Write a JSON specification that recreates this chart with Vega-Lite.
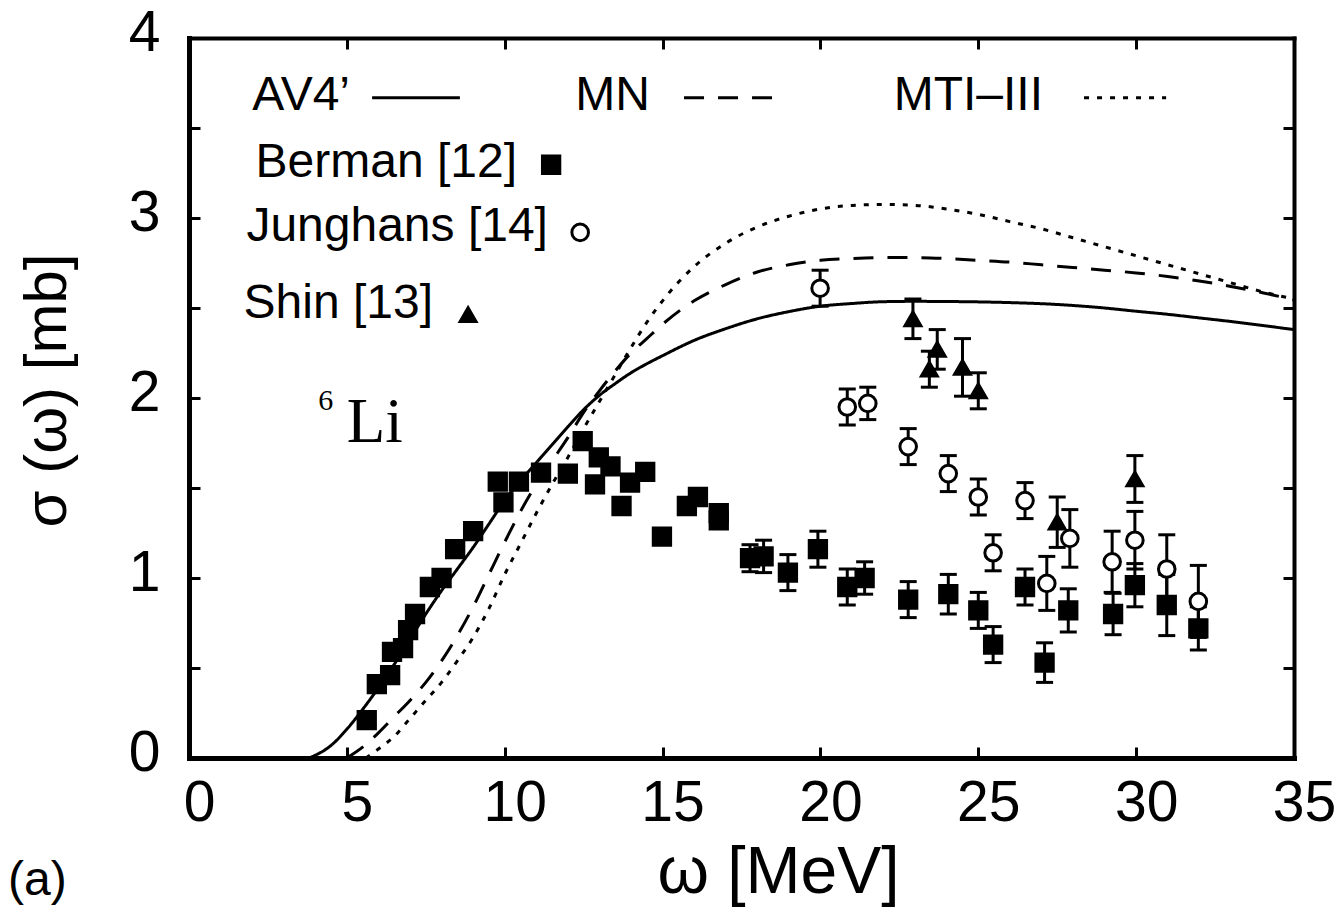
{
  "$schema": "https://vega.github.io/schema/vega-lite/v6.json",
  "width": 1105,
  "height": 720,
  "autosize": {"type": "none"},
  "padding": {"left": 189, "top": 38, "right": 46, "bottom": 164},
  "background": "white",
  "config": {
    "view": {"stroke": null},
    "font": "Liberation Sans",
    "axis": {
      "grid": false,
      "domainColor": "black",
      "tickColor": "black",
      "labelColor": "black",
      "titleColor": "black",
      "labelFont": "Liberation Sans",
      "titleFont": "Liberation Sans",
      "titleFontWeight": "normal",
      "domainCap": "square",
      "labelFlush": false,
      "labelOverlap": false
    }
  },
  "datasets": {
    "curves": [
      {"model": "AV4’", "x": 3.8, "y": 0.0},
      {"model": "AV4’", "x": 4.5, "y": 0.07},
      {"model": "AV4’", "x": 5.0, "y": 0.16},
      {"model": "AV4’", "x": 5.5, "y": 0.27},
      {"model": "AV4’", "x": 6.0, "y": 0.39},
      {"model": "AV4’", "x": 6.5, "y": 0.52},
      {"model": "AV4’", "x": 7.0, "y": 0.66},
      {"model": "AV4’", "x": 7.5, "y": 0.8},
      {"model": "AV4’", "x": 8.0, "y": 0.93},
      {"model": "AV4’", "x": 8.5, "y": 1.05},
      {"model": "AV4’", "x": 9.0, "y": 1.17},
      {"model": "AV4’", "x": 9.5, "y": 1.3},
      {"model": "AV4’", "x": 10.0, "y": 1.43},
      {"model": "AV4’", "x": 10.5, "y": 1.54},
      {"model": "AV4’", "x": 11.0, "y": 1.64},
      {"model": "AV4’", "x": 11.5, "y": 1.74},
      {"model": "AV4’", "x": 12.0, "y": 1.84},
      {"model": "AV4’", "x": 12.5, "y": 1.935},
      {"model": "AV4’", "x": 13.0, "y": 2.015},
      {"model": "AV4’", "x": 13.5, "y": 2.08},
      {"model": "AV4’", "x": 14.0, "y": 2.14},
      {"model": "AV4’", "x": 14.5, "y": 2.19},
      {"model": "AV4’", "x": 15.0, "y": 2.235},
      {"model": "AV4’", "x": 16.0, "y": 2.32},
      {"model": "AV4’", "x": 17.0, "y": 2.385},
      {"model": "AV4’", "x": 18.0, "y": 2.44},
      {"model": "AV4’", "x": 19.0, "y": 2.48},
      {"model": "AV4’", "x": 20.0, "y": 2.51},
      {"model": "AV4’", "x": 21.0, "y": 2.525},
      {"model": "AV4’", "x": 22.0, "y": 2.535},
      {"model": "AV4’", "x": 23.0, "y": 2.537},
      {"model": "AV4’", "x": 24.0, "y": 2.536},
      {"model": "AV4’", "x": 25.0, "y": 2.534},
      {"model": "AV4’", "x": 26.0, "y": 2.53},
      {"model": "AV4’", "x": 27.0, "y": 2.524},
      {"model": "AV4’", "x": 28.0, "y": 2.514},
      {"model": "AV4’", "x": 29.0, "y": 2.5},
      {"model": "AV4’", "x": 30.0, "y": 2.482},
      {"model": "AV4’", "x": 31.0, "y": 2.465},
      {"model": "AV4’", "x": 32.0, "y": 2.445},
      {"model": "AV4’", "x": 33.0, "y": 2.425},
      {"model": "AV4’", "x": 34.0, "y": 2.403},
      {"model": "AV4’", "x": 35.0, "y": 2.38},
      {"model": "MN", "x": 5.0, "y": 0.0},
      {"model": "MN", "x": 5.5, "y": 0.06},
      {"model": "MN", "x": 6.0, "y": 0.14},
      {"model": "MN", "x": 6.5, "y": 0.23},
      {"model": "MN", "x": 7.0, "y": 0.32},
      {"model": "MN", "x": 7.5, "y": 0.42},
      {"model": "MN", "x": 8.0, "y": 0.54},
      {"model": "MN", "x": 8.5, "y": 0.68},
      {"model": "MN", "x": 9.0, "y": 0.84},
      {"model": "MN", "x": 9.5, "y": 1.02},
      {"model": "MN", "x": 10.0, "y": 1.2},
      {"model": "MN", "x": 10.5, "y": 1.37},
      {"model": "MN", "x": 11.0, "y": 1.52},
      {"model": "MN", "x": 11.5, "y": 1.65},
      {"model": "MN", "x": 12.0, "y": 1.78},
      {"model": "MN", "x": 12.5, "y": 1.92},
      {"model": "MN", "x": 13.0, "y": 2.04},
      {"model": "MN", "x": 13.5, "y": 2.15},
      {"model": "MN", "x": 14.0, "y": 2.25},
      {"model": "MN", "x": 14.5, "y": 2.33},
      {"model": "MN", "x": 15.0, "y": 2.41},
      {"model": "MN", "x": 16.0, "y": 2.54},
      {"model": "MN", "x": 17.0, "y": 2.63},
      {"model": "MN", "x": 18.0, "y": 2.7},
      {"model": "MN", "x": 19.0, "y": 2.74},
      {"model": "MN", "x": 20.0, "y": 2.765},
      {"model": "MN", "x": 21.0, "y": 2.775},
      {"model": "MN", "x": 22.0, "y": 2.78},
      {"model": "MN", "x": 23.0, "y": 2.78},
      {"model": "MN", "x": 24.0, "y": 2.775},
      {"model": "MN", "x": 25.0, "y": 2.765},
      {"model": "MN", "x": 26.0, "y": 2.755},
      {"model": "MN", "x": 27.0, "y": 2.74},
      {"model": "MN", "x": 28.0, "y": 2.725},
      {"model": "MN", "x": 29.0, "y": 2.71},
      {"model": "MN", "x": 30.0, "y": 2.695},
      {"model": "MN", "x": 31.0, "y": 2.675},
      {"model": "MN", "x": 32.0, "y": 2.65},
      {"model": "MN", "x": 33.0, "y": 2.62},
      {"model": "MN", "x": 34.0, "y": 2.585},
      {"model": "MN", "x": 35.0, "y": 2.545},
      {"model": "MTI–III", "x": 5.6, "y": 0.0},
      {"model": "MTI–III", "x": 6.0, "y": 0.05},
      {"model": "MTI–III", "x": 6.5, "y": 0.12},
      {"model": "MTI–III", "x": 7.0, "y": 0.22},
      {"model": "MTI–III", "x": 7.5, "y": 0.32},
      {"model": "MTI–III", "x": 8.0, "y": 0.42},
      {"model": "MTI–III", "x": 8.5, "y": 0.54},
      {"model": "MTI–III", "x": 9.0, "y": 0.67},
      {"model": "MTI–III", "x": 9.5, "y": 0.83},
      {"model": "MTI–III", "x": 10.0, "y": 1.02},
      {"model": "MTI–III", "x": 10.5, "y": 1.19},
      {"model": "MTI–III", "x": 11.0, "y": 1.36},
      {"model": "MTI–III", "x": 11.5, "y": 1.52},
      {"model": "MTI–III", "x": 12.0, "y": 1.67},
      {"model": "MTI–III", "x": 12.5, "y": 1.83},
      {"model": "MTI–III", "x": 13.0, "y": 1.98},
      {"model": "MTI–III", "x": 13.5, "y": 2.13},
      {"model": "MTI–III", "x": 14.0, "y": 2.28},
      {"model": "MTI–III", "x": 14.5, "y": 2.42},
      {"model": "MTI–III", "x": 15.0, "y": 2.54},
      {"model": "MTI–III", "x": 16.0, "y": 2.73},
      {"model": "MTI–III", "x": 17.0, "y": 2.86},
      {"model": "MTI–III", "x": 18.0, "y": 2.95},
      {"model": "MTI–III", "x": 19.0, "y": 3.01},
      {"model": "MTI–III", "x": 20.0, "y": 3.05},
      {"model": "MTI–III", "x": 21.0, "y": 3.07},
      {"model": "MTI–III", "x": 22.0, "y": 3.075},
      {"model": "MTI–III", "x": 23.0, "y": 3.07},
      {"model": "MTI–III", "x": 24.0, "y": 3.05},
      {"model": "MTI–III", "x": 25.0, "y": 3.02},
      {"model": "MTI–III", "x": 26.0, "y": 2.98},
      {"model": "MTI–III", "x": 27.0, "y": 2.94},
      {"model": "MTI–III", "x": 28.0, "y": 2.89},
      {"model": "MTI–III", "x": 29.0, "y": 2.84},
      {"model": "MTI–III", "x": 30.0, "y": 2.79},
      {"model": "MTI–III", "x": 31.0, "y": 2.74},
      {"model": "MTI–III", "x": 32.0, "y": 2.69},
      {"model": "MTI–III", "x": 33.0, "y": 2.64},
      {"model": "MTI–III", "x": 34.0, "y": 2.59},
      {"model": "MTI–III", "x": 35.0, "y": 2.55}
    ],
    "points": [
      {"set": "Berman", "x": 5.63, "y": 0.21},
      {"set": "Berman", "x": 5.95, "y": 0.41},
      {"set": "Berman", "x": 6.37, "y": 0.46},
      {"set": "Berman", "x": 6.43, "y": 0.59},
      {"set": "Berman", "x": 6.78, "y": 0.61},
      {"set": "Berman", "x": 6.94, "y": 0.71},
      {"set": "Berman", "x": 7.16, "y": 0.8},
      {"set": "Berman", "x": 7.63, "y": 0.95},
      {"set": "Berman", "x": 8.0, "y": 1.0},
      {"set": "Berman", "x": 8.43, "y": 1.16},
      {"set": "Berman", "x": 9.0, "y": 1.26},
      {"set": "Berman", "x": 9.78, "y": 1.535},
      {"set": "Berman", "x": 9.96, "y": 1.42},
      {"set": "Berman", "x": 10.45, "y": 1.535},
      {"set": "Berman", "x": 11.15, "y": 1.585},
      {"set": "Berman", "x": 12.0, "y": 1.58},
      {"set": "Berman", "x": 12.47, "y": 1.76},
      {"set": "Berman", "x": 12.98, "y": 1.67},
      {"set": "Berman", "x": 13.35, "y": 1.62},
      {"set": "Berman", "x": 12.86, "y": 1.52},
      {"set": "Berman", "x": 13.7, "y": 1.4},
      {"set": "Berman", "x": 13.97, "y": 1.53},
      {"set": "Berman", "x": 14.45, "y": 1.59},
      {"set": "Berman", "x": 14.98, "y": 1.23},
      {"set": "Berman", "x": 15.77, "y": 1.4},
      {"set": "Berman", "x": 16.12, "y": 1.45},
      {"set": "Berman", "x": 16.78, "y": 1.36},
      {"set": "Berman", "x": 16.78, "y": 1.32},
      {"set": "Berman", "x": 17.77, "y": 1.11, "lo": 1.035, "hi": 1.185},
      {"set": "Berman", "x": 18.2, "y": 1.12, "lo": 1.03, "hi": 1.21},
      {"set": "Berman", "x": 18.97, "y": 1.03, "lo": 0.93, "hi": 1.13},
      {"set": "Berman", "x": 19.92, "y": 1.16, "lo": 1.06, "hi": 1.26},
      {"set": "Berman", "x": 20.85, "y": 0.95, "lo": 0.85, "hi": 1.05},
      {"set": "Berman", "x": 21.4, "y": 1.0, "lo": 0.91, "hi": 1.09},
      {"set": "Berman", "x": 22.78, "y": 0.88, "lo": 0.78, "hi": 0.98},
      {"set": "Berman", "x": 24.05, "y": 0.91, "lo": 0.8, "hi": 1.02},
      {"set": "Berman", "x": 25.0, "y": 0.82, "lo": 0.72, "hi": 0.92},
      {"set": "Berman", "x": 25.47, "y": 0.63, "lo": 0.53, "hi": 0.73},
      {"set": "Berman", "x": 26.48, "y": 0.95, "lo": 0.85, "hi": 1.05},
      {"set": "Berman", "x": 27.1, "y": 0.53, "lo": 0.42, "hi": 0.64},
      {"set": "Berman", "x": 27.85, "y": 0.82, "lo": 0.7, "hi": 0.94},
      {"set": "Berman", "x": 29.27, "y": 0.8, "lo": 0.685, "hi": 0.915},
      {"set": "Berman", "x": 29.96, "y": 0.96, "lo": 0.84, "hi": 1.08},
      {"set": "Berman", "x": 30.97, "y": 0.85, "lo": 0.68, "hi": 1.02},
      {"set": "Berman", "x": 31.97, "y": 0.72, "lo": 0.6, "hi": 0.84},
      {"set": "Junghans", "x": 19.99, "y": 2.61, "lo": 2.51, "hi": 2.71},
      {"set": "Junghans", "x": 20.85, "y": 1.95, "lo": 1.85, "hi": 2.05},
      {"set": "Junghans", "x": 21.5, "y": 1.97, "lo": 1.88, "hi": 2.06},
      {"set": "Junghans", "x": 22.78, "y": 1.73, "lo": 1.63, "hi": 1.83},
      {"set": "Junghans", "x": 24.05, "y": 1.58, "lo": 1.48, "hi": 1.68},
      {"set": "Junghans", "x": 25.0, "y": 1.45, "lo": 1.35, "hi": 1.55},
      {"set": "Junghans", "x": 25.47, "y": 1.14, "lo": 1.04, "hi": 1.24},
      {"set": "Junghans", "x": 26.48, "y": 1.43, "lo": 1.33, "hi": 1.53},
      {"set": "Junghans", "x": 27.17, "y": 0.97, "lo": 0.82, "hi": 1.12},
      {"set": "Junghans", "x": 27.9, "y": 1.22, "lo": 1.06, "hi": 1.38},
      {"set": "Junghans", "x": 29.24, "y": 1.09, "lo": 0.92, "hi": 1.26},
      {"set": "Junghans", "x": 29.96, "y": 1.21, "lo": 1.05, "hi": 1.37},
      {"set": "Junghans", "x": 30.97, "y": 1.05, "lo": 0.86, "hi": 1.24},
      {"set": "Junghans", "x": 31.97, "y": 0.87, "lo": 0.67, "hi": 1.07},
      {"set": "Shin", "x": 22.93, "y": 2.44, "lo": 2.33, "hi": 2.55},
      {"set": "Shin", "x": 23.45, "y": 2.16, "lo": 2.06, "hi": 2.26},
      {"set": "Shin", "x": 23.7, "y": 2.27, "lo": 2.16, "hi": 2.38},
      {"set": "Shin", "x": 24.5, "y": 2.17, "lo": 2.01, "hi": 2.33},
      {"set": "Shin", "x": 25.0, "y": 2.04, "lo": 1.94, "hi": 2.14},
      {"set": "Shin", "x": 27.5, "y": 1.31, "lo": 1.17, "hi": 1.45},
      {"set": "Shin", "x": 29.96, "y": 1.55, "lo": 1.42, "hi": 1.68}
    ],
    "keyLines": [
      {"model": "AV4’", "x1": 5.8, "x2": 8.58, "y": 3.668},
      {"model": "MN", "x1": 15.68, "x2": 18.47, "y": 3.668},
      {"model": "MTI–III", "x1": 28.35, "x2": 30.95, "y": 3.668}
    ],
    "keyText": [
      {"label": "AV4’", "x": 5.1, "y": 3.6},
      {"label": "MN", "x": 14.6, "y": 3.6},
      {"label": "MTI–III", "x": 27.05, "y": 3.6},
      {"label": "Berman [12]", "x": 10.39, "y": 3.23},
      {"label": "Junghans [14]", "x": 11.37, "y": 2.87},
      {"label": "Shin [13]", "x": 7.73, "y": 2.446}
    ],
    "keyMarks": [
      {"set": "Berman", "x": 11.47, "y": 3.296},
      {"set": "Junghans", "x": 12.39, "y": 2.92},
      {"set": "Shin", "x": 8.84, "y": 2.463}
    ]
  },
  "resolve": {"axis": {"x": "independent", "y": "independent"}},
  "layer": [
    {
      "data": {"name": "curves"},
      "mark": {"type": "line", "color": "black", "strokeWidth": 3, "interpolate": "monotone", "clip": true},
      "encoding": {
        "x": {
          "field": "x", "type": "quantitative",
          "scale": {"domain": [0, 35], "nice": false, "zero": false},
          "axis": {
            "orient": "bottom",
            "values": [0, 5, 10, 15, 20, 25, 30, 35],
            "title": "ω  [MeV]",
            "labelFontSize": 57,
            "titleFontSize": 66,
            "tickSize": -11,
            "tickWidth": 3,
            "domainWidth": 5,
            "labelPadding": 28,
            "labelOffset": 10,
            "titleX": 589,
            "titleY": 114,
            "titleBaseline": "middle",
            "titleAnchor": "middle",
            "titleAlign": "center"
          }
        },
        "y": {
          "field": "y", "type": "quantitative",
          "scale": {"domain": [0, 4], "nice": false, "zero": false},
          "axis": {
            "orient": "left",
            "values": [0, 0.5, 1, 1.5, 2, 2.5, 3, 3.5, 4],
            "labelExpr": "datum.value % 1 === 0 ? format(datum.value, 'd') : ''",
            "title": "σ (ω) [mb]",
            "labelFontSize": 57,
            "titleFontSize": 60,
            "tickSize": -11,
            "tickWidth": 3,
            "domainWidth": 5,
            "labelPadding": 40,
            "labelOffset": -5,
            "titleX": -142,
            "titleY": 352,
            "titleAngle": -90,
            "titleBaseline": "middle",
            "titleAlign": "center"
          }
        },
        "strokeDash": {
          "field": "model", "type": "nominal",
          "scale": {"domain": ["AV4’", "MN", "MTI–III"], "range": [[1, 0], [20, 14], [5, 8]]},
          "legend": null
        },
        "detail": {"field": "model"}
      }
    },
    {
      "data": {"name": "points"},
      "transform": [{"filter": "isValid(datum.lo)"}],
      "mark": {"type": "rule", "color": "black", "strokeWidth": 3},
      "encoding": {
        "x": {
          "field": "x", "type": "quantitative",
          "scale": {"domain": [0, 35], "nice": false, "zero": false},
          "axis": {
            "orient": "top",
            "values": [0, 5, 10, 15, 20, 25, 30, 35],
            "labels": false,
            "title": null,
            "tickSize": -11,
            "tickWidth": 3,
            "domainWidth": 4
          }
        },
        "y": {
          "field": "lo", "type": "quantitative",
          "scale": {"domain": [0, 4], "nice": false, "zero": false},
          "axis": {
            "orient": "right",
            "values": [0, 0.5, 1, 1.5, 2, 2.5, 3, 3.5, 4],
            "labels": false,
            "title": null,
            "tickSize": -11,
            "tickWidth": 3,
            "domainWidth": 4
          }
        },
        "y2": {"field": "hi"}
      }
    },
    {
      "data": {"name": "points"},
      "transform": [{"filter": "isValid(datum.lo)"}],
      "mark": {"type": "tick", "orient": "horizontal", "color": "black", "size": 17, "thickness": 3, "opacity": 1},
      "encoding": {
        "x": {"field": "x", "type": "quantitative", "scale": {"domain": [0, 35], "nice": false, "zero": false}, "axis": null},
        "y": {"field": "lo", "type": "quantitative", "scale": {"domain": [0, 4], "nice": false, "zero": false}, "axis": null}
      }
    },
    {
      "data": {"name": "points"},
      "transform": [{"filter": "isValid(datum.hi)"}],
      "mark": {"type": "tick", "orient": "horizontal", "color": "black", "size": 17, "thickness": 3, "opacity": 1},
      "encoding": {
        "x": {"field": "x", "type": "quantitative", "scale": {"domain": [0, 35], "nice": false, "zero": false}, "axis": null},
        "y": {"field": "hi", "type": "quantitative", "scale": {"domain": [0, 4], "nice": false, "zero": false}, "axis": null}
      }
    },
    {
      "data": {"name": "points"},
      "mark": {"type": "point", "filled": false, "opacity": 1, "strokeWidth": 3},
      "encoding": {
        "x": {"field": "x", "type": "quantitative", "scale": {"domain": [0, 35], "nice": false, "zero": false}, "axis": null},
        "y": {"field": "y", "type": "quantitative", "scale": {"domain": [0, 4], "nice": false, "zero": false}, "axis": null},
        "shape": {"field": "set", "type": "nominal", "scale": {"domain": ["Berman", "Junghans", "Shin"], "range": ["square", "circle", "triangle-up"]}, "legend": null},
        "fill": {"field": "set", "type": "nominal", "scale": {"domain": ["Berman", "Junghans", "Shin"], "range": ["black", "white", "black"]}, "legend": null},
        "stroke": {"field": "set", "type": "nominal", "scale": {"domain": ["Berman", "Junghans", "Shin"], "range": ["black", "black", "black"]}, "legend": null},
        "size": {"field": "set", "type": "nominal", "scale": {"domain": ["Berman", "Junghans", "Shin"], "range": [300, 250, 320]}, "legend": null},
        "order": {"field": "set"}
      }
    },
    {
      "data": {"name": "keyLines"},
      "mark": {"type": "rule", "color": "black", "strokeWidth": 3},
      "encoding": {
        "x": {"field": "x1", "type": "quantitative", "scale": {"domain": [0, 35], "nice": false, "zero": false}, "axis": null},
        "x2": {"field": "x2"},
        "y": {"field": "y", "type": "quantitative", "scale": {"domain": [0, 4], "nice": false, "zero": false}, "axis": null},
        "strokeDash": {
          "field": "model", "type": "nominal",
          "scale": {"domain": ["AV4’", "MN", "MTI–III"], "range": [[1, 0], [20, 14], [5, 8]]},
          "legend": null
        }
      }
    },
    {
      "data": {"name": "keyMarks"},
      "mark": {"type": "point", "filled": false, "opacity": 1, "strokeWidth": 3},
      "encoding": {
        "x": {"field": "x", "type": "quantitative", "scale": {"domain": [0, 35], "nice": false, "zero": false}, "axis": null},
        "y": {"field": "y", "type": "quantitative", "scale": {"domain": [0, 4], "nice": false, "zero": false}, "axis": null},
        "shape": {"field": "set", "type": "nominal", "scale": {"domain": ["Berman", "Junghans", "Shin"], "range": ["square", "circle", "triangle-up"]}, "legend": null},
        "fill": {"field": "set", "type": "nominal", "scale": {"domain": ["Berman", "Junghans", "Shin"], "range": ["black", "white", "black"]}, "legend": null},
        "stroke": {"field": "set", "type": "nominal", "scale": {"domain": ["Berman", "Junghans", "Shin"], "range": ["black", "black", "black"]}, "legend": null},
        "size": {"field": "set", "type": "nominal", "scale": {"domain": ["Berman", "Junghans", "Shin"], "range": [200, 170, 220]}, "legend": null}
      }
    },
    {
      "data": {"name": "keyText"},
      "mark": {"type": "text", "align": "right", "baseline": "alphabetic", "font": "Liberation Sans", "fontSize": 48, "color": "black"},
      "encoding": {
        "x": {"field": "x", "type": "quantitative", "scale": {"domain": [0, 35], "nice": false, "zero": false}, "axis": null},
        "y": {"field": "y", "type": "quantitative", "scale": {"domain": [0, 4], "nice": false, "zero": false}, "axis": null},
        "text": {"field": "label"}
      }
    },
    {
      "data": {"values": [{"label": "Li", "x": 5.0, "y": 1.757}]},
      "mark": {"type": "text", "align": "left", "baseline": "alphabetic", "font": "Liberation Serif", "fontSize": 63, "color": "black"},
      "encoding": {
        "x": {"field": "x", "type": "quantitative", "scale": {"domain": [0, 35], "nice": false, "zero": false}, "axis": null},
        "y": {"field": "y", "type": "quantitative", "scale": {"domain": [0, 4], "nice": false, "zero": false}, "axis": null},
        "text": {"field": "label"}
      }
    },
    {
      "data": {"values": [{"label": "6", "x": 4.09, "y": 1.935}]},
      "mark": {"type": "text", "align": "left", "baseline": "alphabetic", "font": "Liberation Serif", "fontSize": 30, "color": "black"},
      "encoding": {
        "x": {"field": "x", "type": "quantitative", "scale": {"domain": [0, 35], "nice": false, "zero": false}, "axis": null},
        "y": {"field": "y", "type": "quantitative", "scale": {"domain": [0, 4], "nice": false, "zero": false}, "axis": null},
        "text": {"field": "label"}
      }
    },
    {
      "data": {"values": [{"label": "(a)", "x": -5.73, "y": -0.76}]},
      "mark": {"type": "text", "align": "left", "baseline": "alphabetic", "font": "Liberation Sans", "fontSize": 48, "color": "black"},
      "encoding": {
        "x": {"field": "x", "type": "quantitative", "scale": {"domain": [0, 35], "nice": false, "zero": false}, "axis": null},
        "y": {"field": "y", "type": "quantitative", "scale": {"domain": [0, 4], "nice": false, "zero": false}, "axis": null},
        "text": {"field": "label"}
      }
    }
  ]
}
